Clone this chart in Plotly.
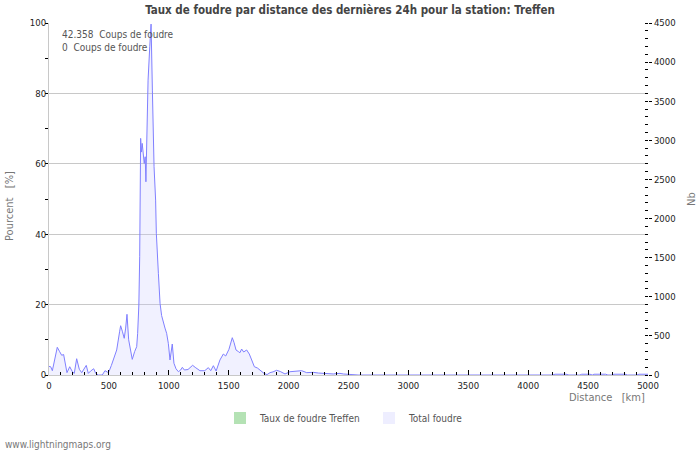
import plotly.graph_objects as go

# ---- data ----
dist_km = [0, 14, 28, 50, 69, 89, 106, 122, 134, 150, 173, 195, 211, 231, 253, 273, 311, 328, 347, 373,
           390, 412, 445, 467, 490, 500, 520, 545, 565, 590, 598, 612, 628, 640, 651, 665, 680, 695, 715, 732,
           740, 750, 757, 765, 771, 778, 795, 803, 809, 815, 827, 841, 852, 863, 877, 890, 896, 913, 927, 940,
           954, 968, 982, 996, 1010, 1021, 1029, 1043, 1060, 1080, 1099, 1113, 1130, 1160, 1180, 1199, 1220, 1260, 1300, 1330,
           1350, 1372, 1395, 1427, 1455, 1475, 1502, 1530, 1545, 1561, 1580, 1594, 1608, 1625, 1650, 1672, 1692, 1714, 1740, 1761,
           1795, 1820, 1845, 1870, 1900, 1930, 1970, 2012, 2050, 2081, 2109, 2151, 2180, 2206, 2250, 2290, 2330, 2373, 2400, 2429,
           2457, 2500, 2560, 2580, 4200, 4224, 4316, 4340, 4430, 4447, 4516, 4535, 4549, 4647, 4665, 4700, 4716, 4808, 4830, 4905,
           4925, 5000]
total_foudre = [110, 106, 55, 200, 354, 298, 252, 262, 170, 30, 106, 42, 21, 208, 73, 30, 123, 21, 50, 80,
                21, 0, 0, 55, 35, 42, 120, 230, 320, 560, 630, 560, 469, 600, 776, 450, 300, 200, 300, 362,
                533, 895, 1512, 3025, 2850, 2961, 2705, 2790, 2470, 2900, 3770, 4196, 4486, 3642, 2662, 2236, 1811, 1300, 916, 760,
                661, 600, 533, 405, 192, 300, 396, 150, 80, 42, 64, 98, 64, 70, 100, 124, 98, 55, 55, 94,
                55, 119, 51, 192, 268, 243, 328, 477, 413, 320, 300, 285, 332, 294, 320, 268, 192, 106, 89, 64,
                21, 5, 30, 40, 60, 45, 13, 42, 50, 55, 55, 30, 35, 34, 25, 21, 15, 13, 18, 21,
                13, 10, 8, 0, 0, 10, 10, 0, 0, 10, 10, 0, 10, 10, 0, 0, 10, 10, 0, 0,
                10, 10]

taux_km = [0, 500, 1000, 1500, 2000, 2500, 3000, 3500, 4000, 4500, 5000]
taux_pct = [0, 0, 0, 0, 0, 0, 0, 0, 0, 0, 0]

x_ticks = [0, 500, 1000, 1500, 2000, 2500, 3000, 3500, 4000, 4500, 5000]
y_left_ticks = [0, 20, 40, 60, 80, 100]
y_right_ticks = [0, 500, 1000, 1500, 2000, 2500, 3000, 3500, 4000, 4500]

title_text = "Taux de foudre par distance des dernières 24h pour la station: Treffen"
info_lines = ["42.358  Coups de foudre", "0  Coups de foudre"]

FONT_C = "DejaVu Sans Condensed"
GREEN = "rgb(180,226,180)"
LAV = "rgb(238,238,255)"
LINE = "rgb(128,128,255)"

# plot-area pixel geometry
L, R, T, B = 49, 648, 23, 375


def px_x(px):
    return (px - L) / (R - L)


def px_y(py):
    return (B - py) / (B - T)


fig = go.Figure()

fig.add_trace(go.Bar(x=taux_km, y=taux_pct, name="Taux de foudre Treffen",
                     marker=dict(color=GREEN, line=dict(width=0)), yaxis="y", hoverinfo="skip"))
fig.add_trace(go.Scatter(x=dist_km, y=total_foudre, mode="lines", fill="tozeroy",
                         line=dict(color=LINE, width=1), fillcolor="rgba(200,200,255,0.25)",
                         yaxis="y2", showlegend=False, hoverinfo="skip"))
# legend entry for Total foudre (square swatch)
fig.add_trace(go.Bar(x=[None], y=[None], name="Total foudre",
                     marker=dict(color=LAV, line=dict(width=0)), yaxis="y2", hoverinfo="skip"))

fig.update_layout(
    width=700, height=450,
    margin=dict(l=L, r=700 - R, t=T, b=450 - B),
    paper_bgcolor="white", plot_bgcolor="white",
    font=dict(family=FONT_C, size=9, color="#333"),
    title=dict(text=title_text, x=0.5, xanchor="center", y=1 - 10 / 450, yanchor="middle",
               xref="container", yref="container",
               font=dict(family=FONT_C, size=11.5, color="#444", weight="bold")),
    showlegend=True,
    legend=dict(orientation="h", xref="container", yref="container", x=220 / 700, xanchor="left",
                y=(450 - 418) / 450, yanchor="middle", font=dict(family=FONT_C, size=10, color="#555"),
                entrywidth=104, entrywidthmode="pixels", traceorder="normal",
                bgcolor="rgba(0,0,0,0)"),
    xaxis=dict(range=[0, 5000], tickvals=x_ticks, showgrid=False, zeroline=False,
               showline=True, linecolor="#c8c8c8", linewidth=1,
               ticks="inside", ticklen=5, tickcolor="#000", tickwidth=1, ticklabelstandoff=2,
               minor=dict(dtick=100, ticks="inside", ticklen=3, tickcolor="#000", showgrid=False),
               tickfont=dict(family=FONT_C, size=9.5, color="#222")),
    yaxis=dict(range=[0, 100], tickvals=y_left_ticks, showgrid=True, gridcolor="#c8c8c8", gridwidth=1,
               zeroline=False, showline=True, linecolor="#c8c8c8", linewidth=1,
               ticks="outside", ticklen=0, tickcolor="#000",
               minor=dict(dtick=10, ticks="outside", ticklen=3, tickcolor="#000", showgrid=False),
               tickfont=dict(family=FONT_C, size=9.5, color="#222")),
    yaxis2=dict(range=[0, 4500], tickvals=y_right_ticks, overlaying="y", side="right",
                showgrid=False, zeroline=False, showline=False,
                ticks="outside", ticklen=3, tickcolor="#000",
                minor=dict(dtick=100, ticks="inside", ticklen=3, tickcolor="#000", showgrid=False),
                tickfont=dict(family=FONT_C, size=9.5, color="#222")),
    barmode="overlay",
)

annos = [
    dict(text=info_lines[0], x=60, y=35, xanchor="left", size=10, color="#555", angle=0),
    dict(text=info_lines[1], x=60, y=47, xanchor="left", size=10, color="#555", angle=0),
    dict(text="Distance   [km]", x=647, y=397, xanchor="right", size=11, color="#777", angle=0),
    dict(text="Pourcent   [%]", x=9, y=206, xanchor="center", size=11, color="#777", angle=-90),
    dict(text="Nb", x=691, y=199, xanchor="center", size=11, color="#777", angle=-90),
    dict(text="www.lightningmaps.org", x=3, y=444, xanchor="left", size=10, color="#777", angle=0),
]
for a in annos:
    fig.add_annotation(text=a["text"], x=px_x(a["x"]), y=px_y(a["y"]), xref="paper", yref="paper",
                       xanchor=a["xanchor"], yanchor="middle", showarrow=False, textangle=a["angle"],
                       font=dict(family=FONT_C, size=a["size"], color=a["color"]))

fig.write_html("out.html")
